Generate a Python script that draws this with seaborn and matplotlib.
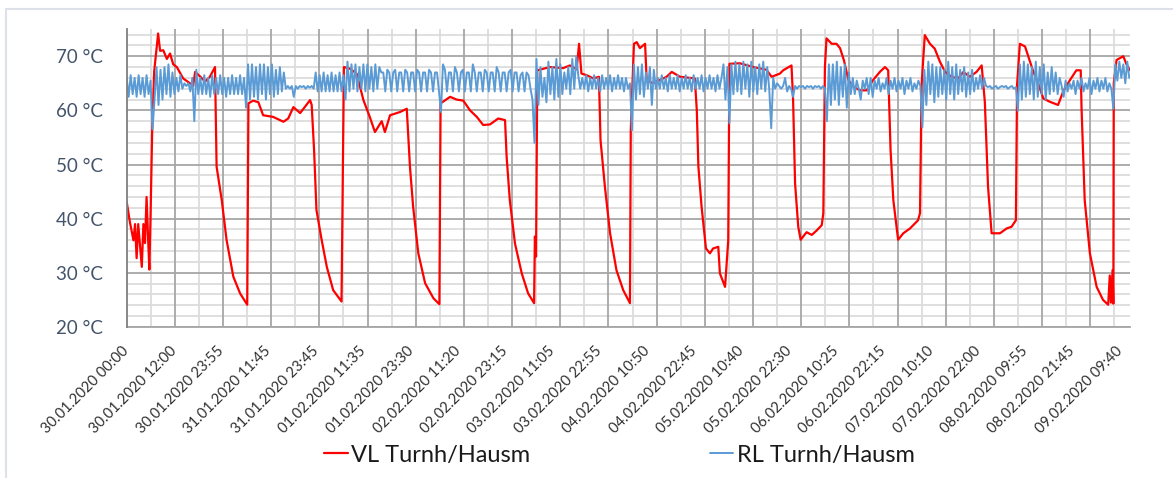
import numpy as np
import pandas as pd
import matplotlib
matplotlib.use("Agg")
import matplotlib.pyplot as plt
from matplotlib.lines import Line2D
import seaborn as sns

# x ticks (category labels of the original Excel chart)
tick_labels = ['30.01.2020 00:00', '30.01.2020 12:00', '30.01.2020 23:55',
               '31.01.2020 11:45', '31.01.2020 23:45', '01.02.2020 11:35',
               '01.02.2020 23:30', '02.02.2020 11:20', '02.02.2020 23:15',
               '03.02.2020 11:05', '03.02.2020 22:55', '04.02.2020 10:50',
               '04.02.2020 22:45', '05.02.2020 10:40', '05.02.2020 22:30',
               '06.02.2020 10:25', '06.02.2020 22:15', '07.02.2020 10:10',
               '07.02.2020 22:00', '08.02.2020 09:55', '08.02.2020 21:45',
               '09.02.2020 09:40']
y_ticks = [20, 30, 40, 50, 60, 70]

# VL (Vorlauf): hours since 30.01.2020 00:00, temperature
vl_hours = [0, 0.8, 1.7, 2.1, 2.5, 2.9, 3.8, 4.2, 4.6, 5.0, 5.4, 5.7, 6.0, 6.4,
            6.9, 7.9, 8.4, 9.2, 10.1, 10.9, 11.7, 12.6, 14.2, 15.9, 16.7, 17.2,
            18.4, 19.7, 20.9, 22.2, 22.6, 23.9, 25.1, 26.8, 28.5, 30.3, 30.6,
            31.8, 33.1, 34.3, 36.8, 39.4, 40.6, 41.9, 43.6, 46.1, 46.5, 47.1,
            47.7, 49.0, 50.3, 51.9, 54.0, 54.6, 56.1, 57.8, 59.5, 61.1, 62.4,
            64.1, 64.9, 66.2, 68.7, 70.4, 71.2, 72.0, 73.3, 75.0, 77.1, 78.6,
            78.9, 81.3, 82.9, 84.6, 86.3, 88.0, 89.6, 91.3, 93.4, 95.1, 95.5,
            96.3, 97.6, 99.3, 100.9, 102.4, 102.6, 102.9, 103.2, 106.4, 109.7,
            111.4, 113.1, 113.7, 114.3, 115.6, 117.3, 118.7, 119.1, 120.2,
            121.5, 123.1, 124.8, 126.5, 126.7, 127.5, 128.2, 129.0, 130.3,
            130.7, 132.3, 134.0, 135.7, 137.0, 139.1, 142.8, 143.3, 143.7,
            144.5, 145.6, 146.6, 147.4, 148.7, 149.1, 150.4, 151.2, 151.5,
            154.1, 157.5, 160.8, 162.1, 164.2, 165.0, 167.1, 167.5, 168.0,
            168.8, 169.4, 170.9, 172.2, 173.4, 174.7, 175.1, 175.5, 175.9,
            177.2, 178.4, 179.3, 180.3, 181.4, 182.6, 184.3, 186.0, 187.6,
            189.3, 190.6, 191.4, 192.0, 192.7, 193.9, 195.2, 196.9, 198.9,
            199.4, 199.8, 200.6, 201.9, 203.1, 204.4, 205.7, 207.3, 209.0,
            210.3, 211.9, 213.6, 214.9, 215.7, 216.5, 217.4, 219.5, 221.2,
            222.4, 223.5, 223.8, 224.5, 225.8, 226.6, 227.9, 229.1, 230.4,
            232.0, 234.1, 235.4, 237.1, 238.7, 239.8, 240.0, 240.8, 242.1,
            243.8, 245.4, 246.7, 247.1, 247.4, 247.8, 248.0, 248.1, 248.8,
            250.5, 251.3, 252.2]
vl_temp = [43.1, 39.4, 36.0, 39.0, 32.7, 39.0, 31.1, 39.0, 35.5, 44.0, 36.0, 30.6,
           40.5, 56.0, 67.1, 74.2, 71.0, 71.1, 69.5, 70.5, 68.5, 68.0, 65.9, 65.0,
           64.5, 67.1, 66.3, 65.3, 66.2, 68.0, 49.6, 43.4, 36.1, 29.3, 26.2, 24.1,
           61.3, 61.8, 61.5, 59.1, 58.8, 57.9, 58.5, 60.6, 59.5, 61.9, 61.0, 52.7,
           41.6, 36.1, 31.1, 26.8, 24.7, 68.0, 67.7, 66.8, 61.9, 58.8, 56.0, 58.0,
           56.0, 59.1, 59.7, 60.3, 49.6, 42.2, 33.6, 28.1, 25.3, 24.2, 61.3, 62.5,
           62.0, 61.8, 60.0, 58.8, 57.3, 57.4, 58.5, 58.2, 51.4, 43.4, 35.4, 29.9,
           26.2, 24.4, 36.7, 33.0, 67.4, 68.0, 67.8, 68.3, 67.6, 72.3, 66.8, 66.5,
           65.9, 66.2, 54.5, 45.9, 37.3, 30.5, 26.8, 24.4, 56.3, 72.3, 72.6, 71.5,
           72.3, 65.6, 65.0, 65.6, 66.2, 67.1, 66.2, 65.9, 60.0, 49.6, 42.2, 34.5,
           33.6, 34.5, 34.8, 29.9, 27.4, 36.0, 68.6, 68.7, 68.0, 67.5, 66.2, 66.8,
           67.4, 68.3, 62.0, 46.5, 38.5, 36.1, 37.5, 37.0, 37.8, 38.8, 41.0, 68.0,
           73.3, 72.3, 72.3, 71.5, 69.2, 65.6, 64.4, 63.7, 63.7, 65.6, 67.1, 68.0,
           67.4, 52.7, 43.4, 36.1, 37.3, 38.2, 39.7, 41.0, 64.7, 73.9, 72.3, 71.4,
           69.0, 67.1, 66.2, 65.9, 67.1, 66.2, 67.1, 68.3, 61.5, 45.9, 37.3, 37.3,
           38.2, 38.5, 39.7, 64.7, 72.3, 71.8, 70.0, 67.1, 65.0, 62.2, 61.6, 61.0,
           63.5, 65.6, 67.4, 67.4, 60.5, 43.4, 33.6, 27.4, 25.0, 24.1, 29.5, 24.5,
           30.5, 24.3, 65.0, 69.3, 70.0, 68.5, 67.4]

# RL (Ruecklauf), one value every 30 min from 30.01.2020 00:00
rl_temp = [
    66, 62.5, 66.5, 63, 66, 62.5, 66.5, 63, 66, 62.5, 66.5, 63, 65.5, 56.5,
    62, 68, 61, 67.5, 62, 68, 63, 68.5, 62.5, 67, 63, 66, 63.5, 66.5, 64, 65,
    64.5, 65, 63.5, 66, 58, 67.5, 63,
    66, 63, 66.5, 63, 66, 62.5, 66.5, 63, 66, 63, 66.5, 63, 66, 62.5, 66, 63,
    66.5, 63, 66, 63, 66.5, 63, 66, 60.5,
    68.5, 62, 68.5, 62.5, 68, 62, 68.5, 63, 68.5, 62, 68, 63, 68.5, 62.5, 67.5,
    63, 68, 63.5, 67, 64,
    64.5, 64, 64.5, 62.5, 64.5, 64, 64.5, 64.3, 64.5, 64, 64.5, 64.2, 64.5, 64,
    67, 63.5, 66.5, 63.5, 67, 63.5, 66.5, 63.5, 67, 63.5, 66.5, 63.5, 67, 63.5,
    66.5, 62,
    69, 63.5, 68.5, 64, 68.5, 63.5, 68, 64, 68.5, 63.5, 68.5, 64, 68, 63.5, 68.5,
    64, 68,
    67, 67, 63.5, 67.5, 67, 63.5, 67, 67.5, 63.5, 67, 67, 63.5, 67.5, 67, 63.5,
    67, 67, 63.5, 67.5, 67, 63.5, 67, 67, 63.5, 67.5, 67, 63.5, 67, 67, 63.5,
    59.7,
    68.5, 67.5, 63.5, 67, 67, 63.5, 68, 67, 63.5, 67, 67.5, 63.5, 67, 67, 63.5,
    68.5, 67, 63.5, 67, 67, 63.5, 67.5, 67, 63.5, 67, 67, 63.5, 68, 67, 63.5,
    67, 67, 63.5, 67, 67.5, 63.5, 67, 67, 63.5, 66.5, 67, 63.5, 67, 66.5, 64,
    62, 54,
    69.5, 61, 68, 62.5, 66, 61.5, 69, 63, 68, 62, 69.5, 62.5, 68.5, 63, 67, 64,
    68, 63, 69.5, 64, 70,
    66.5, 64, 66, 64, 66.5, 63.5, 66, 64, 66.5, 64, 66, 63.5, 66.5, 64, 66, 64,
    66.5, 63.5, 66, 64, 66.5, 64, 66, 63.5, 66, 64, 65,
    56.3,
    68.5, 62, 68, 63, 68.5, 62.5, 67, 64, 68, 61, 67.5, 64, 66, 64, 66.5, 64,
    66, 63.5, 66.5, 64, 66, 64, 66.5, 63.5, 66, 64, 66.5, 64, 66, 63.5, 66.5,
    64, 66, 64, 66.5, 63.5, 66, 64, 66.5, 64, 66, 63.5, 66.5, 64, 66,
    68.5, 62, 68, 57.6, 68.5, 63, 69, 63.5, 68.5, 63, 69, 64, 68.5, 62.5, 69,
    63.5, 68, 63, 68.5, 64, 69, 63.5, 68, 64, 56.7, 66, 64, 65,
    64.5, 64, 64.5, 66, 63.5, 64.5, 64, 62.5, 64.5, 64, 64.5, 64.3, 64.5, 64,
    64.5, 64.3, 64.5, 64, 64.5, 64.3, 64.5, 64, 64.5, 64,
    58, 68.5, 61, 68.5, 62, 69, 61, 68, 62.5, 68.5, 60.5, 67, 63,
    66, 63, 65.5, 64, 62, 65.5, 64, 66, 63, 66, 62.5, 65.5, 64, 66, 63.5, 65,
    64, 66, 63, 65.5, 64, 66, 63.5, 65.5, 64, 66, 63, 65.5, 64, 66, 63.5, 65,
    64, 65.5, 64.5,
    56.9,
    67.5, 61, 69, 63, 68.5, 61.5, 68, 62.5, 68, 63, 67.5, 62, 69, 63, 68, 62,
    68.5, 63, 67.5, 63.5, 68, 62.5, 67, 63, 67.5, 63.5, 66, 64, 66.5, 64, 66,
    64.5, 64.3, 64.5, 64, 64.3, 64.5, 64, 64.3, 64.5, 64.3, 64.5, 64, 64.3, 64.5,
    64, 64.3,
    59.9,
    68.5, 62, 69, 62.5, 68.5, 63, 68, 62, 69, 62.5, 68, 63, 68.5, 62, 67, 63,
    68, 63.5, 67, 63, 66,
    64.5, 62.5, 65.5, 63.5, 65, 64, 65.5, 63, 65.5, 64, 66, 63.5, 65, 64, 66,
    63, 65.5, 64, 66, 63.5, 65.5, 64, 66, 63.5, 65, 64,
    60.3,
    68.5, 65.5, 69, 66, 68.5, 65, 69, 66]


def plot_temperatures():
    sns.set_style('white')
    plt.rcParams['font.family'] = ['Lato', 'DejaVu Sans']

    start = pd.Timestamp('2020-01-30 00:00')
    tick_hours = (pd.to_datetime(tick_labels, format='%d.%m.%Y %H:%M')
                  - start) / pd.Timedelta(hours=1)

    vl = pd.DataFrame({'hours': vl_hours, 'temp': vl_temp})
    rl = pd.DataFrame({'hours': np.arange(len(rl_temp)) * 0.5,
                       'temp': rl_temp})

    fig = plt.figure(figsize=(11.73, 4.78), dpi=100)
    ax = fig.add_axes([0.108, 0.316, 0.8554, 0.623])

    x_max = 252.2
    ax.set_xlim(0, x_max)
    ax.set_ylim(20, 75)

    # Excel style grid: major + minor, horizontal and vertical
    for y in np.arange(20, 75, 2):
        major = (y % 10 == 0)
        ax.axhline(y, color='#A6A6A6' if major else '#DCDCDC',
                   lw=1.3, zorder=1 if major else 0.5)
    grid_step = 12.11 / 2
    for i, x in enumerate(np.arange(grid_step, x_max, grid_step)):
        major = (i % 2 == 1)
        ax.axvline(x, color='#A6A6A6' if major else '#DCDCDC',
                   lw=1.3, zorder=1 if major else 0.5)

    sns.lineplot(data=vl, x='hours', y='temp', ax=ax, color='#FF0000',
                 lw=1.6, estimator=None, sort=False,
                 label='VL Turnh/Hausm', legend=False, zorder=3)
    sns.lineplot(data=rl, x='hours', y='temp', ax=ax, color='#5B9BD5',
                 lw=1.4, estimator=None, sort=False,
                 label='RL Turnh/Hausm', legend=False, zorder=4)

    ax.set_xlabel('')
    ax.set_ylabel('')

    ax.set_yticks(y_ticks)
    ax.set_yticklabels([f'{v} °C' for v in y_ticks])
    ax.tick_params(axis='y', length=7, width=1.3, color='#7F7F7F',
                   pad=10, labelsize=13.5, labelcolor='#44546A')

    ax.set_xticks(tick_hours)
    ax.set_xticklabels(tick_labels, rotation=45, ha='right', va='center',
                       rotation_mode='anchor')
    ax.tick_params(axis='x', length=0, pad=16, labelsize=10.5,
                   labelcolor='#303030')

    for side in ['top', 'right']:
        ax.spines[side].set_visible(False)
    ax.spines['left'].set_color('#7F7F7F')
    ax.spines['bottom'].set_color('#A6A6A6')
    ax.spines['left'].set_linewidth(1.3)
    ax.spines['bottom'].set_linewidth(1.3)
    ax.spines['left'].set_zorder(5)

    handles, labels = ax.get_legend_handles_labels()
    leg = fig.legend(handles, labels, loc='center',
                     bbox_to_anchor=(0.528, 0.048), ncol=2, frameon=False,
                     fontsize=17, handlelength=1.0, handletextpad=0.15,
                     columnspacing=7.6)
    for txt in leg.get_texts():
        txt.set_color('#1A1A1A')

    # light chart-area border (left and top edges visible in the screenshot)
    fig.add_artist(Line2D([6 / 1173, 6 / 1173], [0, 1 - 9 / 478],
                          transform=fig.transFigure, color='#DDE2E8', lw=1.5))
    fig.add_artist(Line2D([6 / 1173, 1], [1 - 9 / 478, 1 - 9 / 478],
                          transform=fig.transFigure, color='#DDE2E8', lw=1.5))

    fig.savefig('out.png', dpi=100)


if __name__ == "__main__":
    plot_temperatures()
